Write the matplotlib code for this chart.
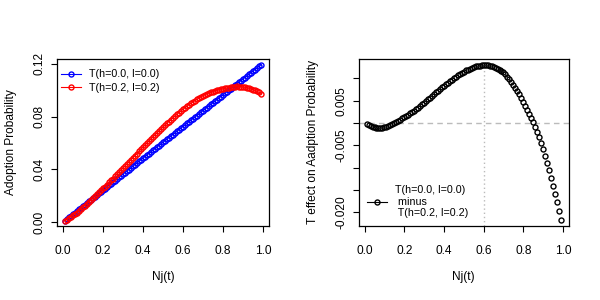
import numpy as np
import matplotlib
matplotlib.use("Agg")
from matplotlib import pyplot as plt
from matplotlib.lines import Line2D

plt.rcParams['font.family'] = ['Liberation Sans', 'DejaVu Sans']

# share of adopters Nj(t)
nj = [k / 100 for k in range(1, 100)]

# adoption probability for T(h=0.0, l=0.0)
prob_base = [
    0.0012, 0.0024, 0.0036, 0.0048, 0.0060, 0.0072, 0.0084, 0.0097, 0.0109, 0.0121,
    0.0133, 0.0145, 0.0157, 0.0169, 0.0181, 0.0194, 0.0206, 0.0218, 0.0230, 0.0242,
    0.0254, 0.0266, 0.0279, 0.0291, 0.0303, 0.0315, 0.0327, 0.0339, 0.0351, 0.0363,
    0.0375, 0.0387, 0.0399, 0.0411, 0.0423, 0.0436, 0.0448, 0.0460, 0.0472, 0.0484,
    0.0496, 0.0508, 0.0520, 0.0532, 0.0544, 0.0556, 0.0568, 0.0580, 0.0592, 0.0604,
    0.0616, 0.0628, 0.0640, 0.0652, 0.0664, 0.0676, 0.0688, 0.0700, 0.0712, 0.0724,
    0.0736, 0.0748, 0.0760, 0.0772, 0.0784, 0.0796, 0.0808, 0.0820, 0.0832, 0.0844,
    0.0856, 0.0868, 0.0880, 0.0892, 0.0904, 0.0916, 0.0928, 0.0940, 0.0952, 0.0964,
    0.0976, 0.0988, 0.1000, 0.1012, 0.1024, 0.1036, 0.1048, 0.1060, 0.1072, 0.1084,
    0.1096, 0.1108, 0.1120, 0.1132, 0.1144, 0.1156, 0.1168, 0.1180, 0.1192,
]

# T effect: T(h=0.2, l=0.2) probability minus the base one
t_effect = [
    -0.0002, -0.0004, -0.0006, -0.0008, -0.0009, -0.0010, -0.0011, -0.0011, -0.0010, -0.0009,
    -0.0008, -0.0006, -0.0004, -0.0002, 0.0000, 0.0002, 0.0005, 0.0008, 0.0011, 0.0014,
    0.0016, 0.0019, 0.0022, 0.0025, 0.0028, 0.0032, 0.0035, 0.0039, 0.0042, 0.0046,
    0.0049, 0.0053, 0.0057, 0.0061, 0.0065, 0.0069, 0.0072, 0.0076, 0.0080, 0.0083,
    0.0087, 0.0090, 0.0094, 0.0097, 0.0101, 0.0104, 0.0107, 0.0110, 0.0113, 0.0115,
    0.0118, 0.0120, 0.0122, 0.0124, 0.0126, 0.0127, 0.0128, 0.0129, 0.0130, 0.0130,
    0.0130, 0.0130, 0.0129, 0.0128, 0.0126, 0.0124, 0.0122, 0.0120, 0.0117, 0.0114,
    0.0109, 0.0104, 0.0098, 0.0092, 0.0086, 0.0079, 0.0072, 0.0065, 0.0056, 0.0047,
    0.0038, 0.0029, 0.0020, 0.0011, 0.0002, -0.0008, -0.0019, -0.0032, -0.0045, -0.0059,
    -0.0073, -0.0089, -0.0105, -0.0122, -0.0140, -0.0158, -0.0177, -0.0197, -0.0217,
]

prob_t = list(np.array(prob_base) + np.array(t_effect))

x_ticks = [0.0, 0.2, 0.4, 0.6, 0.8, 1.0]
left_yticks = [0.00, 0.04, 0.08, 0.12]
right_yticks = [0.010, 0.005, 0.000, -0.005, -0.010, -0.015, -0.020]
right_ylabels = {0.005: "0.005", -0.005: "-0.005", -0.020: "-0.020"}

FS = 8.6


def style_axis(ax):
    ax.tick_params(direction='out', length=4, width=0.8, labelsize=FS, colors='black')
    ax.tick_params(axis='x', pad=9.5)
    ax.tick_params(axis='y', pad=4)
    for lab in ax.get_yticklabels():
        lab.set_rotation(90)
        lab.set_va('center')
    for s in ax.spines.values():
        s.set_linewidth(0.9)


fig = plt.figure(figsize=(6, 3), dpi=100)

ax1 = fig.add_axes([0.095, 0.247, 0.353, 0.557])
ax1.plot(nj, prob_base, '-o', color='blue', lw=0.8, ms=3.6, mfc='none', mew=1.0,
         label='T(h=0.0, l=0.0)')
ax1.plot(nj, prob_t, '-o', color='red', lw=0.8, ms=3.6, mfc='none', mew=1.0,
         label='T(h=0.2, l=0.2)')
ax1.set_xlim(-0.0292, 1.0292)
ax1.set_ylim(-0.0028, 0.1238)
ax1.set_xticks(x_ticks)
ax1.set_xticklabels(['0.0', '0.2', '0.4', '0.6', '0.8', '1.0'])
ax1.set_yticks(left_yticks)
ax1.set_yticklabels(['0.00', '0.04', '0.08', '0.12'])
ax1.set_xlabel('Nj(t)', fontsize=FS, labelpad=10)
ax1.set_ylabel('Adoption Probability', fontsize=FS, labelpad=12)
ax1.legend(loc='upper left', bbox_to_anchor=(0.008, 0.95), frameon=False,
           fontsize=FS * 0.9, handlelength=1.85, borderaxespad=0, borderpad=0.2,
           labelspacing=0.3, handletextpad=0.8)
style_axis(ax1)

ax2 = fig.add_axes([0.598, 0.247, 0.35, 0.557])
ax2.axhline(0, color='#bbbbbb', lw=1, ls=(0, (4, 3)))
ax2.axvline(0.6, color='#bbbbbb', lw=1, ls=(0, (1, 2)))
ax2.plot(nj, t_effect, 'o', color='black', ms=3.6, mfc='none', mew=1.0)
ax2.set_xlim(-0.0292, 1.0292)
ax2.set_ylim(-0.0230, 0.0144)
ax2.set_xticks(x_ticks)
ax2.set_xticklabels(['0.0', '0.2', '0.4', '0.6', '0.8', '1.0'])
ax2.set_yticks(right_yticks)
ax2.set_yticklabels([right_ylabels.get(v, '') for v in right_yticks])
ax2.set_xlabel('Nj(t)', fontsize=FS, labelpad=10)
ax2.set_ylabel('T effect on Aadption Probability', fontsize=FS, labelpad=12)
handle = Line2D([], [], color='black', lw=0.8, marker='o', ms=3.6, mfc='none', mew=1.0)
ax2.legend([handle], ['T(h=0.0, l=0.0)\n minus\n T(h=0.2, l=0.2)'], loc='lower left',
           bbox_to_anchor=(0.027, 0.032), frameon=False, fontsize=FS * 0.9,
           handlelength=1.85, borderaxespad=0, borderpad=0.2, handletextpad=0.8)
style_axis(ax2)

fig.savefig('out.png', dpi=100)
